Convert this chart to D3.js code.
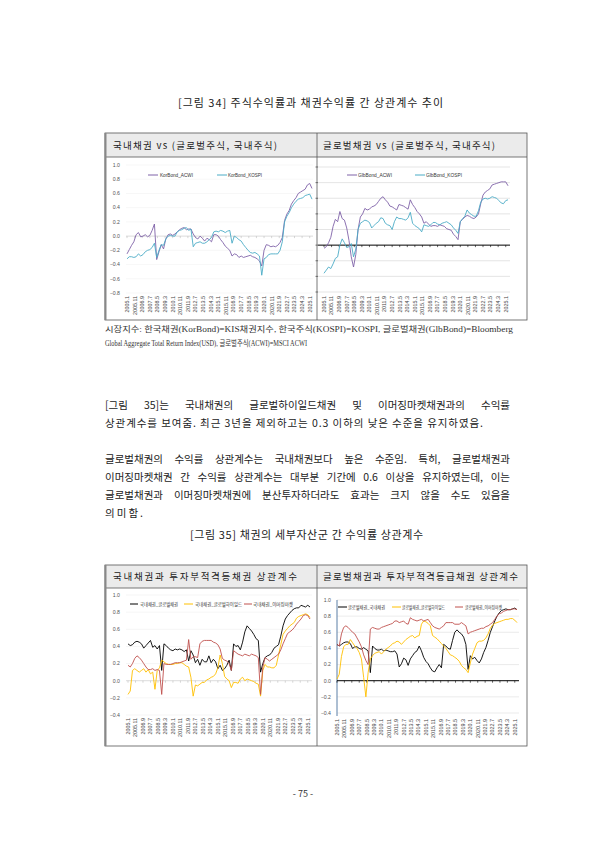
<!DOCTYPE html>
<html><head><meta charset="utf-8">
<script src="https://cdn.jsdelivr.net/npm/d3@7"></script>
<style>body{margin:0;background:#fff} svg{display:block}</style>
</head><body>
<svg id="page" width="595" height="842"></svg>
<script>
// ---------------- data ----------------
const dataStart = "2005.1";       // first observation, quarterly steps
const stepMonths = 3;
const tickLabels = ["2005.1","2005.11","2006.9","2007.7","2008.5","2009.3","2010.1","2010.11","2011.9","2012.7","2013.5","2014.3","2015.1","2015.11","2016.9","2017.7","2018.5","2019.3","2020.1","2020.11","2021.9","2022.7","2023.5","2024.3","2025.1"];

const korBondACWI = [-0.25,-0.19,-0.13,-0.08,0.02,0.05,-0.01,0.00,0.02,-0.01,
 0.01,0.08,0.17,-0.33,-0.22,-0.12,-0.18,-0.04,0.02,0.03,
 0.01,0.03,0.06,0.09,0.11,0.12,0.09,0.10,0.10,0.03,
 -0.02,-0.04,0.00,-0.03,-0.07,-0.03,-0.05,-0.08,0.02,0.02,
 0.00,-0.05,-0.09,-0.14,-0.17,-0.20,-0.28,-0.25,-0.26,-0.30,
 -0.28,-0.30,-0.29,-0.28,-0.27,-0.29,-0.30,-0.32,-0.35,-0.42,
 -0.20,-0.12,-0.13,-0.15,-0.14,-0.15,-0.13,-0.09,-0.02,0.22,
 0.31,0.36,0.45,0.50,0.54,0.60,0.62,0.64,0.66,0.72,
 0.74,0.67];
const korBondKOSPI = [-0.32,-0.29,-0.29,-0.30,-0.29,-0.25,-0.28,-0.26,-0.22,-0.20,
 -0.19,-0.16,-0.10,-0.30,-0.20,-0.12,-0.13,-0.04,0.00,0.01,
 0.00,0.00,0.06,0.08,0.09,0.11,0.12,0.08,0.10,-0.15,
 -0.10,-0.09,-0.08,-0.10,-0.10,-0.08,-0.05,-0.02,0.06,0.07,
 0.06,0.08,0.07,0.05,0.07,0.08,-0.10,0.00,-0.02,-0.05,
 -0.07,-0.12,-0.16,-0.20,-0.23,-0.24,-0.23,-0.25,-0.28,-0.55,
 -0.32,-0.30,-0.26,-0.25,-0.25,-0.25,-0.25,-0.20,-0.08,0.20,
 0.28,0.33,0.40,0.45,0.49,0.52,0.53,0.54,0.57,0.58,
 0.59,0.52];
const glbBondACWI = [-0.04,-0.02,0.03,0.10,0.24,0.33,0.30,0.43,0.34,0.32,
 0.22,0.06,-0.15,-0.28,-0.12,0.20,0.36,0.40,0.47,0.45,
 0.46,0.49,0.50,0.52,0.56,0.60,0.62,0.58,0.55,0.50,
 0.49,0.47,0.45,0.52,0.51,0.50,0.48,0.46,0.58,0.52,
 0.48,0.43,0.40,0.36,0.28,0.30,0.27,0.24,0.25,0.25,
 0.24,0.26,0.25,0.24,0.21,0.20,0.19,0.14,0.11,0.07,
 0.30,0.33,0.36,0.38,0.37,0.35,0.34,0.36,0.40,0.53,
 0.64,0.68,0.70,0.72,0.77,0.78,0.79,0.80,0.81,0.81,
 0.81,0.76];
const glbBondKOSPI = [-0.36,-0.32,-0.28,-0.30,-0.24,-0.17,-0.15,0.00,0.08,0.03,
 -0.03,-0.02,0.02,-0.15,-0.05,0.20,0.28,0.30,0.32,0.31,
 0.29,0.22,0.25,0.28,0.30,0.35,0.34,0.28,0.26,0.25,
 0.20,0.30,0.36,0.34,0.34,0.33,0.32,0.35,0.42,0.28,
 0.25,0.23,0.21,0.17,0.26,0.25,0.24,0.26,0.29,0.29,
 0.27,0.26,0.28,0.29,0.30,0.28,0.26,0.22,0.19,0.15,
 0.30,0.34,0.37,0.45,0.41,0.39,0.37,0.37,0.44,0.55,
 0.59,0.60,0.59,0.60,0.62,0.61,0.60,0.57,0.54,0.53,
 0.57,0.58];
const korGlbBond = [0.43,0.41,0.42,0.45,0.46,0.45,0.43,0.38,0.41,0.44,
 0.47,0.39,0.41,0.37,0.41,0.12,0.43,0.41,0.38,0.36,
 0.35,0.37,0.36,0.37,0.36,0.34,0.36,0.23,0.35,0.30,
 0.21,0.25,0.18,0.25,0.22,0.22,0.29,0.21,0.25,0.22,
 0.14,0.18,0.12,0.14,0.18,0.24,0.12,0.43,0.40,0.41,
 0.36,0.45,0.57,0.64,0.61,0.58,0.54,0.49,0.47,0.10,
 0.20,0.27,0.29,0.30,0.33,0.38,0.40,0.42,0.52,0.64,
 0.72,0.76,0.79,0.82,0.84,0.85,0.85,0.88,0.87,0.86,
 0.88,0.86];
const korHighYield = [-0.16,-0.12,0.12,0.14,0.12,0.10,0.12,0.14,0.10,0.13,
 0.08,0.10,-0.10,0.12,0.15,0.24,0.22,0.20,0.19,0.19,
 0.19,0.20,0.20,0.21,0.21,0.19,0.17,0.16,0.04,-0.18,
 -0.05,-0.06,-0.04,-0.02,-0.02,0.01,0.02,0.04,0.05,0.08,
 0.15,0.30,0.20,0.05,0.02,0.00,-0.08,-0.02,-0.02,-0.03,
 0.02,0.04,0.00,0.02,0.01,0.00,-0.01,-0.03,-0.04,-0.18,
 0.12,0.19,0.16,0.16,0.15,0.15,0.18,0.30,0.42,0.54,
 0.58,0.61,0.64,0.66,0.68,0.73,0.75,0.76,0.77,0.78,
 0.77,0.74];
const korEmerging = [0.18,0.16,0.20,0.26,0.29,0.27,0.24,0.20,0.16,0.13,
 0.13,0.14,0.12,0.13,0.12,-0.16,0.20,0.19,0.19,0.19,
 0.20,0.21,0.21,0.21,0.22,0.23,0.24,0.48,0.25,0.28,
 0.28,0.27,0.43,0.46,0.47,0.47,0.47,0.47,0.45,0.44,
 0.42,0.37,0.26,0.24,0.23,0.20,0.12,0.35,0.33,0.31,
 0.30,0.29,0.31,0.30,0.29,0.31,0.30,0.29,0.27,-0.16,
 0.16,0.27,0.25,0.23,0.25,0.27,0.29,0.31,0.36,0.43,
 0.49,0.55,0.57,0.59,0.62,0.66,0.69,0.72,0.76,0.77,
 0.76,0.72];
const glbKorBond = [0.45,0.43,0.45,0.47,0.48,0.48,0.46,0.40,0.42,0.42,
 0.40,0.39,0.41,0.39,0.37,0.10,0.43,0.40,0.38,0.38,
 0.39,0.37,0.38,0.37,0.36,0.36,0.37,0.33,0.17,0.21,
 0.28,0.26,0.19,0.27,0.31,0.35,0.37,0.43,0.37,0.29,
 0.24,0.21,0.16,0.12,0.11,0.16,0.20,0.16,0.45,0.43,
 0.40,0.39,0.50,0.60,0.63,0.60,0.58,0.54,0.45,0.14,
 0.31,0.27,0.29,0.25,0.22,0.27,0.35,0.41,0.50,0.60,
 0.67,0.74,0.80,0.84,0.87,0.88,0.89,0.88,0.88,0.89,
 0.90,0.88];
const glbHighYield = [0.02,0.08,0.30,0.42,0.45,0.45,0.51,0.47,0.43,0.40,
 0.35,0.27,0.04,-0.20,0.10,0.27,0.31,0.34,0.35,0.36,
 0.33,0.36,0.39,0.41,0.43,0.46,0.47,0.49,0.48,0.45,
 0.48,0.51,0.53,0.55,0.56,0.53,0.55,0.56,0.70,0.74,
 0.73,0.71,0.68,0.56,0.54,0.52,0.49,0.46,0.43,0.40,
 0.36,0.32,0.31,0.29,0.27,0.24,0.19,0.16,0.14,0.10,
 0.22,0.33,0.40,0.47,0.49,0.49,0.50,0.53,0.58,0.65,
 0.69,0.71,0.72,0.73,0.74,0.75,0.76,0.76,0.77,0.77,
 0.75,0.72];
const glbEmerging = [0.45,0.43,0.58,0.66,0.68,0.66,0.63,0.60,0.58,0.53,
 0.48,0.42,0.32,0.25,0.20,0.64,0.66,0.65,0.64,0.64,
 0.66,0.67,0.68,0.69,0.70,0.71,0.74,0.74,0.72,0.73,
 0.74,0.71,0.70,0.78,0.76,0.75,0.74,0.75,0.76,0.74,
 0.75,0.76,0.72,0.68,0.66,0.65,0.64,0.66,0.68,0.72,
 0.72,0.72,0.72,0.70,0.70,0.70,0.72,0.70,0.68,0.58,
 0.60,0.61,0.62,0.63,0.64,0.65,0.65,0.67,0.68,0.70,
 0.72,0.76,0.80,0.83,0.84,0.86,0.87,0.88,0.88,0.89,
 0.89,0.88];

// ---------------- helpers ----------------
const svg = d3.select('#page');
const KR = "'Noto Sans CJK KR','Noto Sans',sans-serif";
const LAT = "'Liberation Sans','DejaVu Sans',sans-serif";
function monthIdx(s){ const [y,m]=s.split('.').map(Number); const [y0,m0]=dataStart.split('.').map(Number); return (y-y0)*12+(m-m0); }

function fitText(str, x0, x1, y, size, opt={}) {
  const t = svg.append('text').attr('x', x0).attr('y', y).attr('font-size', size)
    .attr('font-family', opt.family||KR).attr('fill', opt.fill||'#222').text(str);
  if (x1 != null) t.attr('textLength', x1-x0).attr('lengthAdjust', opt.adjust||'spacing');
  return t;
}
function justifyText(str, x0, x1, y, size) {
  const t = svg.append('text').attr('y', y).attr('font-size', size).attr('font-family', KR).attr('fill','#222');
  const words = str.split(' ');
  const spans = words.map(w => t.append('tspan').text(w));
  const widths = spans.map(s => s.node().getComputedTextLength());
  const gap = (x1 - x0 - d3.sum(widths)) / Math.max(1, words.length-1);
  let x = x0;
  spans.forEach((s,i)=>{ s.attr('x', x); x += widths[i] + gap; });
}

// ---------------- page text ----------------
fitText("[그림 34] 주식수익률과 채권수익률 간 상관계수 추이", 178, 443, 107, 11);
fitText("[그림 35] 채권의 세부자산군 간 수익률 상관계수", 190, 423, 539, 11);

justifyText("[그림 35]는 국내채권의 글로벌하이일드채권 및 이머징마켓채권과의 수익률", 105, 510, 409, 10.5);
fitText("상관계수를 보여줌. 최근 3년을 제외하고는 0.3 이하의 낮은 수준을 유지하였음.", 105, 483, 427, 10.5);
justifyText("글로벌채권의 수익률 상관계수는 국내채권보다 높은 수준임. 특히, 글로벌채권과", 105, 510, 463, 10.5);
justifyText("이머징마켓채권 간 수익률 상관계수는 대부분 기간에 0.6 이상을 유지하였는데, 이는", 105, 510, 481, 10.5);
justifyText("글로벌채권과 이머징마켓채권에 분산투자하더라도 효과는 크지 않을 수도 있음을", 105, 510, 499, 10.5);
fitText("의미함.", 105, 143, 517, 10.5);

const NOTEF = "'Liberation Serif','Noto Sans CJK KR',serif";
fitText("시장지수:  한국채권(KorBond)=KIS채권지수,  한국주식(KOSPI)=KOSPI,  글로벌채권(GlbBond)=Bloomberg", 105, 513, 332, 7.6, {family:NOTEF, fill:'#333', adjust:'spacingAndGlyphs'});
fitText("Global Aggregate Total Return Index(USD), 글로벌주식(ACWI)=MSCI ACWI", 105, 307, 346, 7.6, {family:NOTEF, fill:'#333', adjust:'spacingAndGlyphs'});

svg.append('text').attr('x', 303).attr('y', 797).attr('text-anchor','middle').attr('font-size', 9)
  .attr('font-family', KR).attr('fill','#333').text("- 75 -");

// ---------------- tables ----------------
function table(top, headBot, bottom, h1, h1x1, h2, h2x1, ty) {
  const L=105, M=317, R=527;
  svg.append('rect').attr('x',L).attr('y',top).attr('width',R-L).attr('height',headBot-top).attr('fill','#ebebeb');
  svg.append('rect').attr('x',L).attr('y',top).attr('width',R-L).attr('height',bottom-top)
     .attr('fill','none').attr('stroke','#555').attr('stroke-width',0.8);
  svg.append('line').attr('x1',L).attr('x2',R).attr('y1',headBot).attr('y2',headBot).attr('stroke','#555').attr('stroke-width',0.8);
  svg.append('line').attr('x1',M).attr('x2',M).attr('y1',top).attr('y2',bottom).attr('stroke','#555').attr('stroke-width',0.8);
  svg.append('line').attr('x1',L+0.5).attr('x2',L+0.5).attr('y1',top).attr('y2',bottom).attr('stroke','#888').attr('stroke-width',2);
  fitText(h1, 113, h1x1, ty, 9.5);
  fitText(h2, 323, h2x1, ty, 9.5);
}
table(133, 157, 320, "국내채권 vs (글로벌주식, 국내주식)", 277, "글로벌채권 vs (글로벌주식, 국내주식)", 495, 149);
table(565, 588, 746, "국내채권과 투자부적격등채권 상관계수", 297, "글로벌채권과 투자부적격등급채권 상관계수", 518, 580);

// ---------------- charts ----------------
const C_PURPLE = '#7f62a8', C_TEAL = '#4bacc6', C_BLACK = '#000', C_YELLOW = '#ffc000', C_RED = '#c0504d';
const lastIdx = (korBondACWI.length-1)*stepMonths;

function drawChart(c) {
  const g = svg.append('g');
  const x = d3.scaleLinear().domain([0, lastIdx]).range([c.x0, c.x1]);
  const y = d3.scaleLinear().domain(c.domain).range([c.yBot, c.yTop]);
  const nT = Math.round((c.domain[1]-c.domain[0])/0.2);
  const yt = d3.range(nT+1).map(i => +(c.domain[0] + i*0.2).toFixed(1));
  yt.forEach(v => {
    if (v !== 0 || !c.zeroColor) g.append('line').attr('x1', c.gx0).attr('x2', c.gx1).attr('y1', y(v)).attr('y2', y(v))
      .attr('stroke', c.grid).attr('stroke-width', 0.6);
    if (c.labels) g.append('text').attr('x', c.labelX).attr('y', y(v)+1.8).attr('text-anchor','end')
      .attr('font-size', 5.2).attr('font-family', LAT).attr('fill','#555').text(d3.format('.1f')(v));
    if (c.leftTicks) g.append('line').attr('x1', c.gx0-2.5).attr('x2', c.gx0).attr('y1', y(v)).attr('y2', y(v)).attr('stroke','#444').attr('stroke-width',0.7);
  });
  if (c.vAxis) g.append('line').attr('x1', c.gx0).attr('x2', c.gx0).attr('y1', c.yTop).attr('y2', c.yBot+3).attr('stroke', c.vAxis).attr('stroke-width', 1);
  if (c.zeroColor) g.append('line').attr('x1', c.gx0).attr('x2', c.gx1).attr('y1', y(0)).attr('y2', y(0))
      .attr('stroke', c.zeroColor).attr('stroke-width', c.zeroW||1);
  tickLabels.forEach(lb => {
    const xm = x(monthIdx(lb));
    g.append('line').attr('x1', xm).attr('x2', xm).attr('y1', y(0)).attr('y2', y(0)+2).attr('stroke', c.tickColor).attr('stroke-width',0.6);
    g.append('text').attr('transform', `translate(${xm+1.9},${c.xLabY}) rotate(-90)`).attr('text-anchor','end')
      .attr('font-size', 5.4).attr('font-family', LAT).attr('fill','#444').text(lb);
  });
  const line = d3.line().x((d,i) => x(i*stepMonths)).y(d => y(d));
  c.series.forEach(s => {
    g.append('path').datum(s.values).attr('d', line).attr('fill','none').attr('stroke', s.color).attr('stroke-width', 0.9);
  });
  c.series.forEach(s => {
    g.append('line').attr('x1', s.lx[0]).attr('x2', s.lx[1]).attr('y1', c.legY).attr('y2', c.legY).attr('stroke', s.color).attr('stroke-width', 1);
    g.append('text').attr('x', s.tx[0]).attr('y', c.legY+1.8).attr('font-size', 5).attr('font-family', s.kr?KR:LAT)
      .attr('fill','#333').attr('textLength', s.tx[1]-s.tx[0]).attr('lengthAdjust','spacingAndGlyphs').text(s.name);
  });
}

drawChart({x0:127, x1:312, gx0:126, gx1:313, yTop:165, yBot:293, domain:[-0.8,1.0], labels:true, labelX:120,
  grid:'#f1f1f1', zeroColor:'#dcdcdc', tickColor:'#bbb', xLabY:296, legY:175,
  series:[{name:'KorBond_ACWI', values:korBondACWI, color:C_PURPLE, lx:[148,158], tx:[160,193]},
          {name:'KorBond_KOSPI', values:korBondKOSPI, color:C_TEAL, lx:[217,227], tx:[228,262]}]});

drawChart({x0:324, x1:508, gx0:318, gx1:510, yTop:167, yBot:292, domain:[-0.6,1.0], labels:false, leftTicks:true,
  grid:'#d4d4d4', zeroColor:'#000', tickColor:'#000', xLabY:296, legY:175,
  series:[{name:'GlbBond_ACWI', values:glbBondACWI, color:C_PURPLE, lx:[347,357], tx:[358,392]},
          {name:'GlbBond_KOSPI', values:glbBondKOSPI, color:C_TEAL, lx:[415,425], tx:[426,462]}]});

drawChart({x0:128, x1:310, gx0:126, gx1:312, yTop:595, yBot:715, domain:[-0.4,1.0], labels:true, labelX:120,
  grid:'#efefef', zeroColor:'#dcdcdc', tickColor:'#bbb', xLabY:718, legY:604,
  series:[{name:'국내채권_글로벌채권', values:korGlbBond, color:C_BLACK, lx:[130,138], tx:[140,178], kr:true},
          {name:'국내채권_글로벌하이일드', values:korHighYield, color:C_YELLOW, lx:[184,193], tx:[195,242], kr:true},
          {name:'국내채권_이머징마켓', values:korEmerging, color:C_RED, lx:[244,252], tx:[253,293], kr:true}]});

drawChart({x0:337, x1:517, gx0:337, gx1:519, yTop:600, yBot:713, domain:[-0.4,1.0], labels:true, labelX:331,
  grid:'#dddddd', zeroColor:'#000', tickColor:'#000', vAxis:'#5b7fa6', xLabY:719, legY:607,
  series:[{name:'글로벌채권_국내채권', values:glbKorBond, color:C_BLACK, lx:[338,347], tx:[348,385], kr:true},
          {name:'글로벌채권_글로벌하이일드', values:glbHighYield, color:C_YELLOW, lx:[392,401], tx:[402,445], kr:true},
          {name:'글로벌채권_이머징마켓', values:glbEmerging, color:C_RED, lx:[455,463], tx:[465,502], kr:true}]});
</script>
</body></html>
